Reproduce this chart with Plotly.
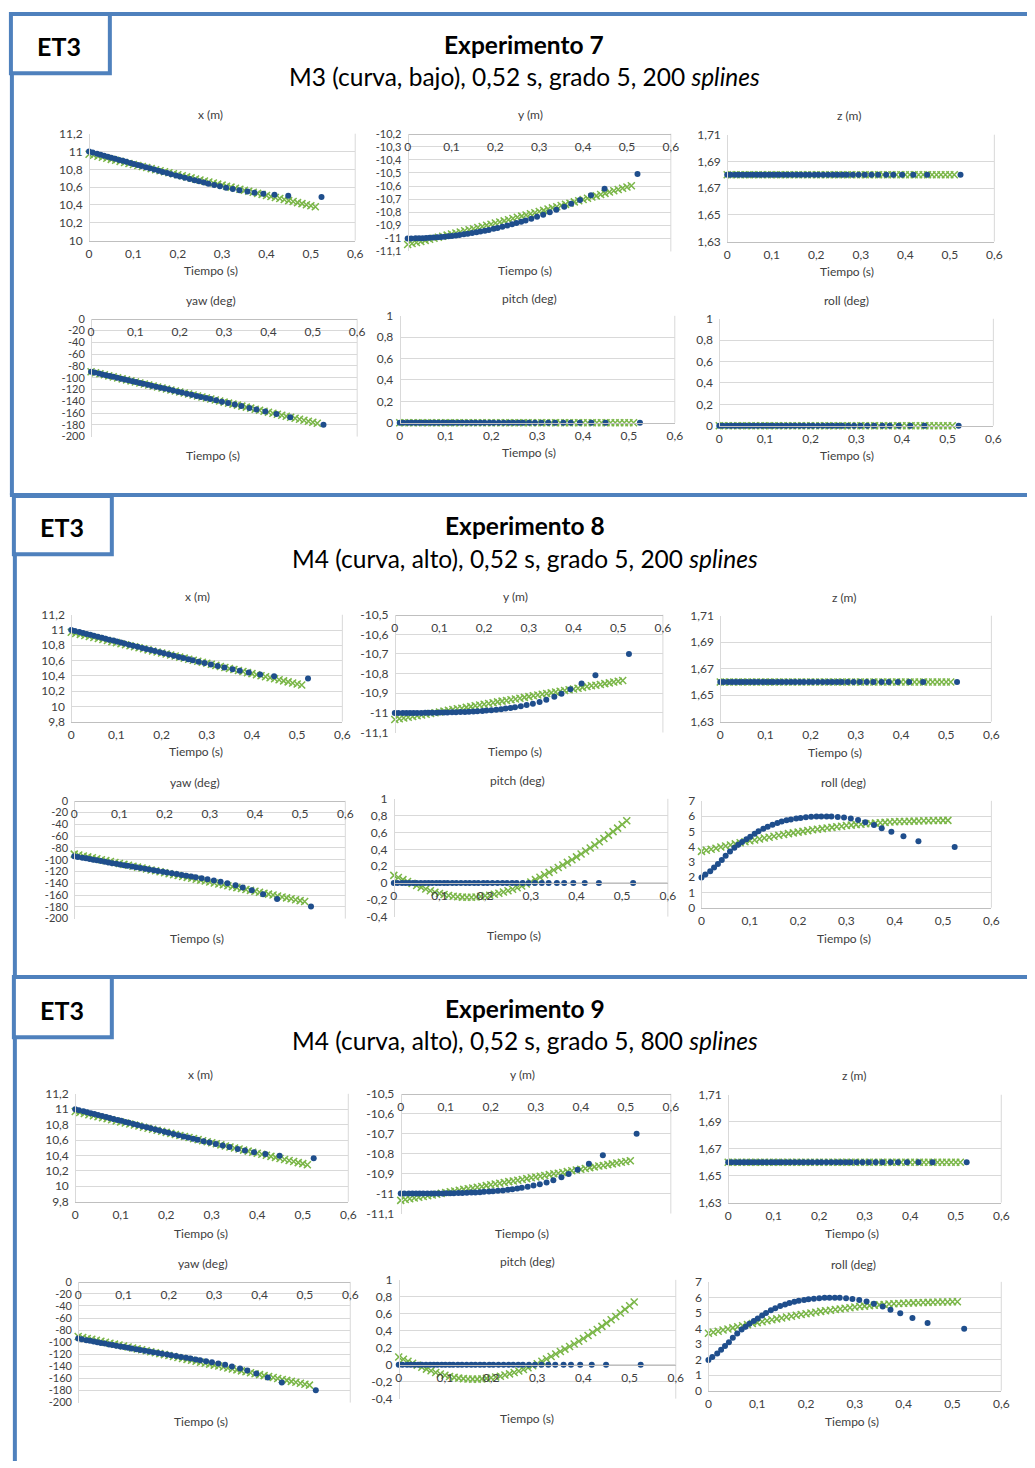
import plotly.graph_objects as go

W, H = 1035, 1468

# ---------------- DATA ----------------
T_BLUE = [0, 0.008, 0.018, 0.026, 0.034, 0.042, 0.050, 0.059, 0.068, 0.076,
          0.084, 0.093, 0.101, 0.110, 0.118, 0.128, 0.137, 0.147, 0.157, 0.166,
          0.176, 0.185, 0.196, 0.205, 0.216, 0.227, 0.238, 0.248, 0.259, 0.269,
          0.282, 0.295, 0.309, 0.324, 0.339, 0.357, 0.373, 0.393, 0.418, 0.449,
          0.524]
T_GREEN = [0.00, 0.01, 0.02, 0.03, 0.04, 0.05, 0.06, 0.07, 0.08, 0.09,
           0.10, 0.11, 0.12, 0.13, 0.14, 0.15, 0.16, 0.17, 0.18, 0.19,
           0.20, 0.21, 0.22, 0.23, 0.24, 0.25, 0.26, 0.27, 0.28, 0.29,
           0.30, 0.31, 0.32, 0.33, 0.34, 0.35, 0.36, 0.37, 0.38, 0.39,
           0.40, 0.41, 0.42, 0.43, 0.44, 0.45, 0.46, 0.47, 0.48, 0.49,
           0.50, 0.51]

# Experimento 7
E7_X_BLUE = [11.000, 10.989, 10.975, 10.964, 10.953, 10.942, 10.931, 10.918, 10.906, 10.895,
             10.884, 10.872, 10.861, 10.848, 10.837, 10.823, 10.811, 10.797, 10.784, 10.771,
             10.758, 10.746, 10.731, 10.719, 10.705, 10.691, 10.677, 10.665, 10.651, 10.639,
             10.624, 10.609, 10.594, 10.579, 10.565, 10.550, 10.538, 10.526, 10.515, 10.503,
             10.490]
E7_X_GREEN = [10.970, 10.958, 10.947, 10.935, 10.924, 10.912, 10.901, 10.889, 10.877, 10.866,
              10.854, 10.843, 10.831, 10.820, 10.808, 10.796, 10.785, 10.773, 10.762, 10.750,
              10.739, 10.727, 10.715, 10.704, 10.692, 10.681, 10.669, 10.658, 10.646, 10.634,
              10.623, 10.611, 10.600, 10.588, 10.577, 10.565, 10.553, 10.542, 10.530, 10.519,
              10.507, 10.496, 10.484, 10.472, 10.461, 10.449, 10.438, 10.426, 10.415, 10.403,
              10.391, 10.380]
E7_Y_BLUE = [-11.000, -11.000, -10.999, -10.999, -10.998, -10.997, -10.995, -10.993, -10.991, -10.989,
             -10.987, -10.984, -10.981, -10.977, -10.974, -10.969, -10.964, -10.959, -10.953, -10.948,
             -10.941, -10.935, -10.927, -10.920, -10.911, -10.902, -10.892, -10.883, -10.873, -10.863,
             -10.849, -10.835, -10.819, -10.801, -10.782, -10.758, -10.736, -10.707, -10.670, -10.620,
             -10.508]
E7_Y_GREEN = [-11.047, -11.039, -11.031, -11.023, -11.015, -11.007, -10.999, -10.991, -10.983, -10.975,
              -10.967, -10.959, -10.951, -10.942, -10.934, -10.926, -10.917, -10.909, -10.900, -10.892,
              -10.883, -10.874, -10.866, -10.857, -10.848, -10.839, -10.830, -10.821, -10.812, -10.804,
              -10.795, -10.786, -10.776, -10.767, -10.758, -10.749, -10.740, -10.731, -10.721, -10.712,
              -10.703, -10.693, -10.684, -10.675, -10.665, -10.656, -10.645, -10.636, -10.626, -10.617,
              -10.607, -10.597]
E7_Z_BLUE = [1.68] * len(T_BLUE)
E7_Z_GREEN = [1.68] * len(T_GREEN)
E7_YAW_BLUE = [-90.0, -91.4, -93.1, -94.5, -95.8, -97.2, -98.6, -100.1, -101.7, -103.1,
               -104.4, -106.0, -107.4, -108.9, -110.3, -112.0, -113.5, -115.3, -117.0, -118.5,
               -120.2, -121.8, -123.7, -125.2, -127.1, -129.0, -130.9, -132.6, -134.5, -136.2,
               -138.4, -140.7, -143.1, -145.7, -148.2, -151.3, -154.1, -157.5, -161.8, -167.1,
               -180.0]
E7_YAW_GREEN = [-90.0, -91.7, -93.4, -95.1, -96.9, -98.6, -100.3, -102.0, -103.7, -105.4,
                -107.2, -108.9, -110.6, -112.3, -114.0, -115.7, -117.4, -119.2, -120.9, -122.6,
                -124.3, -126.0, -127.7, -129.4, -131.2, -132.9, -134.6, -136.3, -138.0, -139.7,
                -141.5, -143.2, -144.9, -146.6, -148.3, -150.0, -151.7, -153.5, -155.2, -156.9,
                -158.6, -160.3, -162.0, -163.7, -165.5, -167.2, -168.9, -170.6, -172.3, -174.0,
                -175.8, -177.5]
E7_PITCH_BLUE = [0.0] * len(T_BLUE)
E7_PITCH_GREEN = [0.0] * len(T_GREEN)
E7_ROLL_BLUE = [0.0] * len(T_BLUE)
E7_ROLL_GREEN = [0.0] * len(T_GREEN)

# Experimento 8
E8_X_BLUE = [11.000, 10.988, 10.973, 10.961, 10.949, 10.937, 10.925, 10.912, 10.898, 10.886,
             10.874, 10.861, 10.849, 10.835, 10.823, 10.808, 10.795, 10.780, 10.765, 10.752,
             10.737, 10.724, 10.708, 10.695, 10.679, 10.663, 10.647, 10.633, 10.617, 10.603,
             10.585, 10.567, 10.548, 10.528, 10.508, 10.485, 10.465, 10.442, 10.418, 10.395,
             10.365]
E8_X_GREEN = [10.970, 10.956, 10.943, 10.929, 10.916, 10.902, 10.889, 10.875, 10.862, 10.848,
              10.835, 10.821, 10.808, 10.794, 10.781, 10.767, 10.754, 10.740, 10.726, 10.713,
              10.699, 10.686, 10.672, 10.659, 10.645, 10.632, 10.618, 10.605, 10.591, 10.578,
              10.564, 10.551, 10.537, 10.523, 10.510, 10.496, 10.483, 10.469, 10.456, 10.442,
              10.429, 10.415, 10.402, 10.388, 10.375, 10.361, 10.348, 10.334, 10.321, 10.307,
              10.294, 10.280]
E8_Y_BLUE = [-11.000, -11.000, -11.000, -11.000, -11.000, -11.000, -11.000, -11.000, -10.999, -10.999,
             -10.999, -10.999, -10.998, -10.998, -10.998, -10.997, -10.997, -10.996, -10.995, -10.994,
             -10.993, -10.991, -10.990, -10.988, -10.986, -10.984, -10.981, -10.978, -10.975, -10.971,
             -10.966, -10.960, -10.953, -10.944, -10.933, -10.918, -10.902, -10.880, -10.850, -10.808,
             -10.700]
E8_Y_GREEN = [-11.034, -11.030, -11.026, -11.022, -11.018, -11.015, -11.011, -11.007, -11.003, -10.999,
              -10.995, -10.991, -10.987, -10.983, -10.979, -10.976, -10.972, -10.968, -10.964, -10.960,
              -10.956, -10.952, -10.948, -10.944, -10.940, -10.937, -10.933, -10.929, -10.925, -10.921,
              -10.917, -10.913, -10.909, -10.905, -10.901, -10.898, -10.894, -10.890, -10.886, -10.882,
              -10.878, -10.874, -10.870, -10.866, -10.862, -10.859, -10.855, -10.851, -10.847, -10.843,
              -10.839, -10.835]
E8_Z_BLUE = [1.66] * len(T_BLUE)
E8_Z_GREEN = [1.66] * len(T_GREEN)
E8_YAW_BLUE = [-94.0, -95.2, -96.6, -97.7, -98.8, -100.0, -101.1, -102.3, -103.6, -104.7,
               -105.8, -107.0, -108.1, -109.3, -110.4, -111.7, -112.9, -114.2, -115.5, -116.7,
               -118.0, -119.1, -120.5, -121.7, -123.0, -124.4, -125.8, -127.1, -128.5, -129.8,
               -131.5, -133.3, -135.3, -137.5, -140.0, -143.4, -147.0, -152.0, -158.5, -166.5,
               -179.5]
E8_YAW_GREEN = [-90.5, -92.1, -93.7, -95.2, -96.8, -98.4, -100.0, -101.6, -103.1, -104.7,
                -106.3, -107.9, -109.5, -111.0, -112.6, -114.2, -115.8, -117.4, -118.9, -120.5,
                -122.1, -123.7, -125.3, -126.8, -128.4, -130.0, -131.6, -133.2, -134.7, -136.3,
                -137.9, -139.5, -141.1, -142.6, -144.2, -145.8, -147.4, -149.0, -150.5, -152.1,
                -153.7, -155.3, -156.9, -158.4, -160.0, -161.6, -163.2, -164.8, -166.3, -167.9,
                -169.5, -171.1]
E8_PITCH_BLUE = [0.0] * len(T_BLUE)
E8_PITCH_GREEN = [0.090, 0.065, 0.040, 0.017, -0.005, -0.030, -0.052, -0.072, -0.092, -0.110,
                  -0.125, -0.138, -0.149, -0.158, -0.164, -0.168, -0.170, -0.170, -0.167, -0.161,
                  -0.153, -0.145, -0.135, -0.122, -0.108, -0.092, -0.075, -0.056, -0.035, -0.012,
                  0.012, 0.040, 0.068, 0.097, 0.126, 0.155, 0.184, 0.214, 0.245, 0.277,
                  0.310, 0.344, 0.379, 0.415, 0.452, 0.490, 0.529, 0.569, 0.610, 0.652,
                  0.695, 0.740]
E8_ROLL_BLUE = [1.98, 2.17, 2.39, 2.63, 2.87, 3.12, 3.40, 3.68, 3.93, 4.12,
                4.30, 4.48, 4.65, 4.84, 5.00, 5.17, 5.31, 5.44, 5.55, 5.64,
                5.72, 5.78, 5.84, 5.88, 5.92, 5.95, 5.97, 5.98, 5.98, 5.97,
                5.94, 5.90, 5.84, 5.74, 5.60, 5.42, 5.20, 4.98, 4.68, 4.36,
                3.98]
E8_ROLL_GREEN = [3.69, 3.76, 3.83, 3.90, 3.97, 4.04, 4.11, 4.18, 4.25, 4.32,
                 4.38, 4.44, 4.50, 4.56, 4.62, 4.68, 4.74, 4.79, 4.85, 4.90,
                 4.95, 5.00, 5.05, 5.10, 5.14, 5.18, 5.22, 5.26, 5.30, 5.34,
                 5.38, 5.41, 5.44, 5.47, 5.50, 5.52, 5.54, 5.57, 5.59, 5.61,
                 5.63, 5.64, 5.65, 5.66, 5.67, 5.68, 5.69, 5.70, 5.71, 5.71,
                 5.72, 5.72]

# Experimento 9 (read as identical to Experimento 8 in the picture)
E9_X_BLUE, E9_X_GREEN = list(E8_X_BLUE), list(E8_X_GREEN)
E9_Y_BLUE, E9_Y_GREEN = list(E8_Y_BLUE), list(E8_Y_GREEN)
E9_Z_BLUE, E9_Z_GREEN = list(E8_Z_BLUE), list(E8_Z_GREEN)
E9_YAW_BLUE, E9_YAW_GREEN = list(E8_YAW_BLUE), list(E8_YAW_GREEN)
E9_PITCH_BLUE, E9_PITCH_GREEN = list(E8_PITCH_BLUE), list(E8_PITCH_GREEN)
E9_ROLL_BLUE, E9_ROLL_GREEN = list(E8_ROLL_BLUE), list(E8_ROLL_GREEN)

# Tick values / labels
X_TICKS = [0, 0.1, 0.2, 0.3, 0.4, 0.5, 0.6]
X_TICK_TEXT = ['0', '0,1', '0,2', '0,3', '0,4', '0,5', '0,6']
YT_X7 = [10, 10.2, 10.4, 10.6, 10.8, 11, 11.2]
YL_X7 = ['10', '10,2', '10,4', '10,6', '10,8', '11', '11,2']
YT_Y7 = [-11.1, -11.0, -10.9, -10.8, -10.7, -10.6, -10.5, -10.4, -10.3, -10.2]
YL_Y7 = ['-11,1', '-11', '-10,9', '-10,8', '-10,7', '-10,6', '-10,5', '-10,4', '-10,3', '-10,2']
YT_Z = [1.63, 1.65, 1.67, 1.69, 1.71]
YL_Z = ['1,63', '1,65', '1,67', '1,69', '1,71']
YT_YAW = [-200, -180, -160, -140, -120, -100, -80, -60, -40, -20, 0]
YL_YAW = ['-200', '-180', '-160', '-140', '-120', '-100', '-80', '-60', '-40', '-20', '0']
YT_01 = [0, 0.2, 0.4, 0.6, 0.8, 1]
YL_01 = ['0', '0,2', '0,4', '0,6', '0,8', '1']
YT_X8 = [9.8, 10, 10.2, 10.4, 10.6, 10.8, 11, 11.2]
YL_X8 = ['9,8', '10', '10,2', '10,4', '10,6', '10,8', '11', '11,2']
YT_Y8 = [-11.1, -11.0, -10.9, -10.8, -10.7, -10.6, -10.5]
YL_Y8 = ['-11,1', '-11', '-10,9', '-10,8', '-10,7', '-10,6', '-10,5']
YT_PITCH8 = [-0.4, -0.2, 0, 0.2, 0.4, 0.6, 0.8, 1]
YL_PITCH8 = ['-0,4', '-0,2', '0', '0,2', '0,4', '0,6', '0,8', '1']
YT_ROLL8 = [0, 1, 2, 3, 4, 5, 6, 7]
YL_ROLL8 = ['0', '1', '2', '3', '4', '5', '6', '7']

SUBPLOT_TITLES = ['x (m)', 'y (m)', 'z (m)', 'yaw (deg)', 'pitch (deg)', 'roll (deg)']
X_TITLE = 'Tiempo (s)'
BOX_LABEL = 'ET3'
SECTION_TITLES = ['Experimento 7', 'Experimento 8', 'Experimento 9']
SECTION_SUBTITLES = ['M3 (curva, bajo), 0,52 s, grado 5, 200 <i>splines</i>',
                     'M4 (curva, alto), 0,52 s, grado 5, 200 <i>splines</i>',
                     'M4 (curva, alto), 0,52 s, grado 5, 800 <i>splines</i>']

for arr in [E7_X_BLUE, E7_Y_BLUE, E7_YAW_BLUE, E8_X_BLUE, E8_Y_BLUE, E8_YAW_BLUE, E8_ROLL_BLUE]:
    assert len(arr) == len(T_BLUE), len(arr)
for arr in [E7_X_GREEN, E7_Y_GREEN, E7_YAW_GREEN, E8_X_GREEN, E8_Y_GREEN, E8_YAW_GREEN,
            E8_PITCH_GREEN, E8_ROLL_GREEN]:
    assert len(arr) == len(T_GREEN), len(arr)

# ---------------- PANELS ----------------
# (blue, green, yticks, ylabels, value where horizontal axis crosses)
PANELS = [
    (E7_X_BLUE, E7_X_GREEN, YT_X7, YL_X7, 10),
    (E7_Y_BLUE, E7_Y_GREEN, YT_Y7, YL_Y7, -10.2),
    (E7_Z_BLUE, E7_Z_GREEN, YT_Z, YL_Z, 1.63),
    (E7_YAW_BLUE, E7_YAW_GREEN, YT_YAW, YL_YAW, 0),
    (E7_PITCH_BLUE, E7_PITCH_GREEN, YT_01, YL_01, 0),
    (E7_ROLL_BLUE, E7_ROLL_GREEN, YT_01, YL_01, 0),
    (E8_X_BLUE, E8_X_GREEN, YT_X8, YL_X8, 9.8),
    (E8_Y_BLUE, E8_Y_GREEN, YT_Y8, YL_Y8, -10.5),
    (E8_Z_BLUE, E8_Z_GREEN, YT_Z, YL_Z, 1.63),
    (E8_YAW_BLUE, E8_YAW_GREEN, YT_YAW, YL_YAW, 0),
    (E8_PITCH_BLUE, E8_PITCH_GREEN, YT_PITCH8, YL_PITCH8, 0),
    (E8_ROLL_BLUE, E8_ROLL_GREEN, YT_ROLL8, YL_ROLL8, 0),
    (E9_X_BLUE, E9_X_GREEN, YT_X8, YL_X8, 9.8),
    (E9_Y_BLUE, E9_Y_GREEN, YT_Y8, YL_Y8, -10.5),
    (E9_Z_BLUE, E9_Z_GREEN, YT_Z, YL_Z, 1.63),
    (E9_YAW_BLUE, E9_YAW_GREEN, YT_YAW, YL_YAW, 0),
    (E9_PITCH_BLUE, E9_PITCH_GREEN, YT_PITCH8, YL_PITCH8, 0),
    (E9_ROLL_BLUE, E9_ROLL_GREEN, YT_ROLL8, YL_ROLL8, 0),
]

# plot areas in page pixels: (left, right, top, bottom)
GEOM = [
    (87, 356, 127, 235), (409, 675, 127, 246), (732, 1002, 128, 236),
    (89, 358, 314, 433), (401, 679, 311, 419), (724, 1001, 314, 422),
    (69, 343, 613, 721), (396, 667, 613, 732), (725, 999, 614, 721),
    (72, 346, 801, 920), (395, 672, 799, 918), (706, 999, 801, 909),
    (73, 349, 1097, 1206), (402, 675, 1097, 1218), (733, 1009, 1098, 1207),
    (76, 351, 1287, 1409), (400, 680, 1285, 1405), (713, 1009, 1287, 1397),
]
TITLE_POS = [
    (210, 108), (533, 108), (855, 109), (210, 296), (532, 293), (853, 296),
    (197, 595), (518, 595), (850, 596), (194, 783), (520, 780), (850, 783),
    (200, 1078), (525, 1078), (860, 1079), (202, 1268), (530, 1266), (860, 1269),
]
XTITLE_POS = [
    (210, 265), (528, 265), (853, 266), (212, 452), (532, 449), (853, 452),
    (195, 751), (518, 751), (841, 752), (196, 940), (516, 937), (850, 940),
    (200, 1238), (525, 1238), (858, 1238), (200, 1428), (530, 1425), (858, 1428),
]
HEAD_POS = [(527, 37, 69, 57, 38), (528, 523, 556, 60, 524), (528, 1011, 1043, 60, 1012)]
BOXES = [(8, 6, 108, 66), (11, 493, 110, 552), (11, 979, 110, 1040)]
DENSE = {1, 3, 9, 15}  # panels whose tick labels are tightly packed


def fx(px):
    return px / W


def fy(py):
    return 1 - py / H


BLUE = '#1F4E8C'
GREEN = '#7AB648'
GRID = '#D9D9D9'
AXIS = '#BFBFBF'
FRAME = '#4F81BD'
FONT = 'Lato, Open Sans, sans-serif'
TXT = '#404040'

fig = go.Figure()
layout = {}
shapes = []
annotations = []

for i, (vb, vg, yt, yl, cross) in enumerate(PANELS):
    n = i + 1
    xs = 'x' if n == 1 else f'x{n}'
    ys = 'y' if n == 1 else f'y{n}'
    xk = 'xaxis' if n == 1 else f'xaxis{n}'
    yk = 'yaxis' if n == 1 else f'yaxis{n}'
    l, r, t, b = GEOM[i]
    ymin, ymax = yt[0], yt[-1]
    y0, y1 = fy(b), fy(t)
    pos = y0 + (cross - ymin) / (ymax - ymin) * (y1 - y0)
    yfs = 11 if i in DENSE else 12
    layout[xk] = dict(domain=[fx(l), fx(r)], range=[0, 0.6], anchor='free', position=pos,
                      tickvals=X_TICKS, ticktext=X_TICK_TEXT, showgrid=False, zeroline=False,
                      showline=True, linecolor=AXIS, linewidth=1, ticks='', ticklabelstandoff=2,
                      tickfont=dict(family=FONT, size=12, color=TXT), fixedrange=True)
    layout[yk] = dict(domain=[y0, y1], range=[ymin, ymax], anchor='free', position=fx(l),
                      tickvals=yt, ticktext=yl, showgrid=True, gridcolor=GRID, gridwidth=1,
                      zeroline=False, showline=True, linecolor=GRID, linewidth=1, ticks='',
                      ticklabelstandoff=4,
                      tickfont=dict(family=FONT, size=yfs, color=TXT), fixedrange=True)
    fig.add_trace(go.Scatter(x=T_GREEN, y=vg, xaxis=xs, yaxis=ys, mode='markers',
                             marker=dict(symbol='x-thin', size=7, color=GREEN,
                                         line=dict(width=1.5, color=GREEN)),
                             cliponaxis=False, showlegend=False, hoverinfo='skip'))
    fig.add_trace(go.Scatter(x=T_BLUE, y=vb, xaxis=xs, yaxis=ys, mode='markers',
                             marker=dict(symbol='circle', size=6, color=BLUE),
                             cliponaxis=False, showlegend=False, hoverinfo='skip'))
    # right border of plot area
    shapes.append(dict(type='line', xref='paper', yref='paper', x0=fx(r), x1=fx(r), y0=y0, y1=y1,
                       line=dict(color=GRID, width=1), layer='below'))
    tx, ty = TITLE_POS[i]
    annotations.append(dict(text=SUBPLOT_TITLES[i % 6], x=fx(tx), y=fy(ty), xref='paper', yref='paper',
                            showarrow=False, xanchor='center', yanchor='middle',
                            font=dict(family=FONT, size=12, color=TXT)))
    ax_, ay_ = XTITLE_POS[i]
    annotations.append(dict(text=X_TITLE, x=fx(ax_), y=fy(ay_), xref='paper', yref='paper',
                            showarrow=False, xanchor='center', yanchor='middle',
                            font=dict(family=FONT, size=12, color=TXT)))

# section frames
FW = 4
frame_lines = [
    (8, 6, 1035, 6), (9, 6, 9, 492), (7, 492, 1035, 492),
    (12, 492, 12, 979), (10, 979, 1035, 979), (12, 979, 12, 1468),
]
for (x0, y0, x1, y1) in frame_lines:
    shapes.append(dict(type='line', xref='paper', yref='paper', x0=fx(x0), y0=fy(y0), x1=fx(x1), y1=fy(y1),
                       line=dict(color=FRAME, width=FW), layer='above'))
for (x0, y0, x1, y1) in BOXES:
    shapes.append(dict(type='rect', xref='paper', yref='paper', x0=fx(x0), y0=fy(y0), x1=fx(x1), y1=fy(y1),
                       line=dict(color=FRAME, width=FW), fillcolor='white', layer='above'))

for k in range(3):
    cx, ty, sy, ex, ey = HEAD_POS[k]
    annotations.append(dict(text=f'<b>{SECTION_TITLES[k]}</b>', x=fx(cx), y=fy(ty), xref='paper', yref='paper',
                            showarrow=False, xanchor='center', yanchor='middle',
                            font=dict(family=FONT, size=24.5, color='black')))
    annotations.append(dict(text=SECTION_SUBTITLES[k], x=fx(cx), y=fy(sy), xref='paper', yref='paper',
                            showarrow=False, xanchor='center', yanchor='middle',
                            font=dict(family=FONT, size=24.5, color='black')))
    annotations.append(dict(text=f'<b>{BOX_LABEL}</b>', x=fx(ex), y=fy(ey), xref='paper', yref='paper',
                            showarrow=False, xanchor='center', yanchor='middle',
                            font=dict(family=FONT, size=25, color='black')))

fig.update_layout(width=W, height=H, autosize=False, margin=dict(l=0, r=0, t=0, b=0),
                  paper_bgcolor='white', plot_bgcolor='white', showlegend=False,
                  shapes=shapes, annotations=annotations, **layout)
fig.write_html('out.html', config=dict(displayModeBar=False),
               post_script="document.body.style.margin='0';document.body.style.overflow='hidden';")
